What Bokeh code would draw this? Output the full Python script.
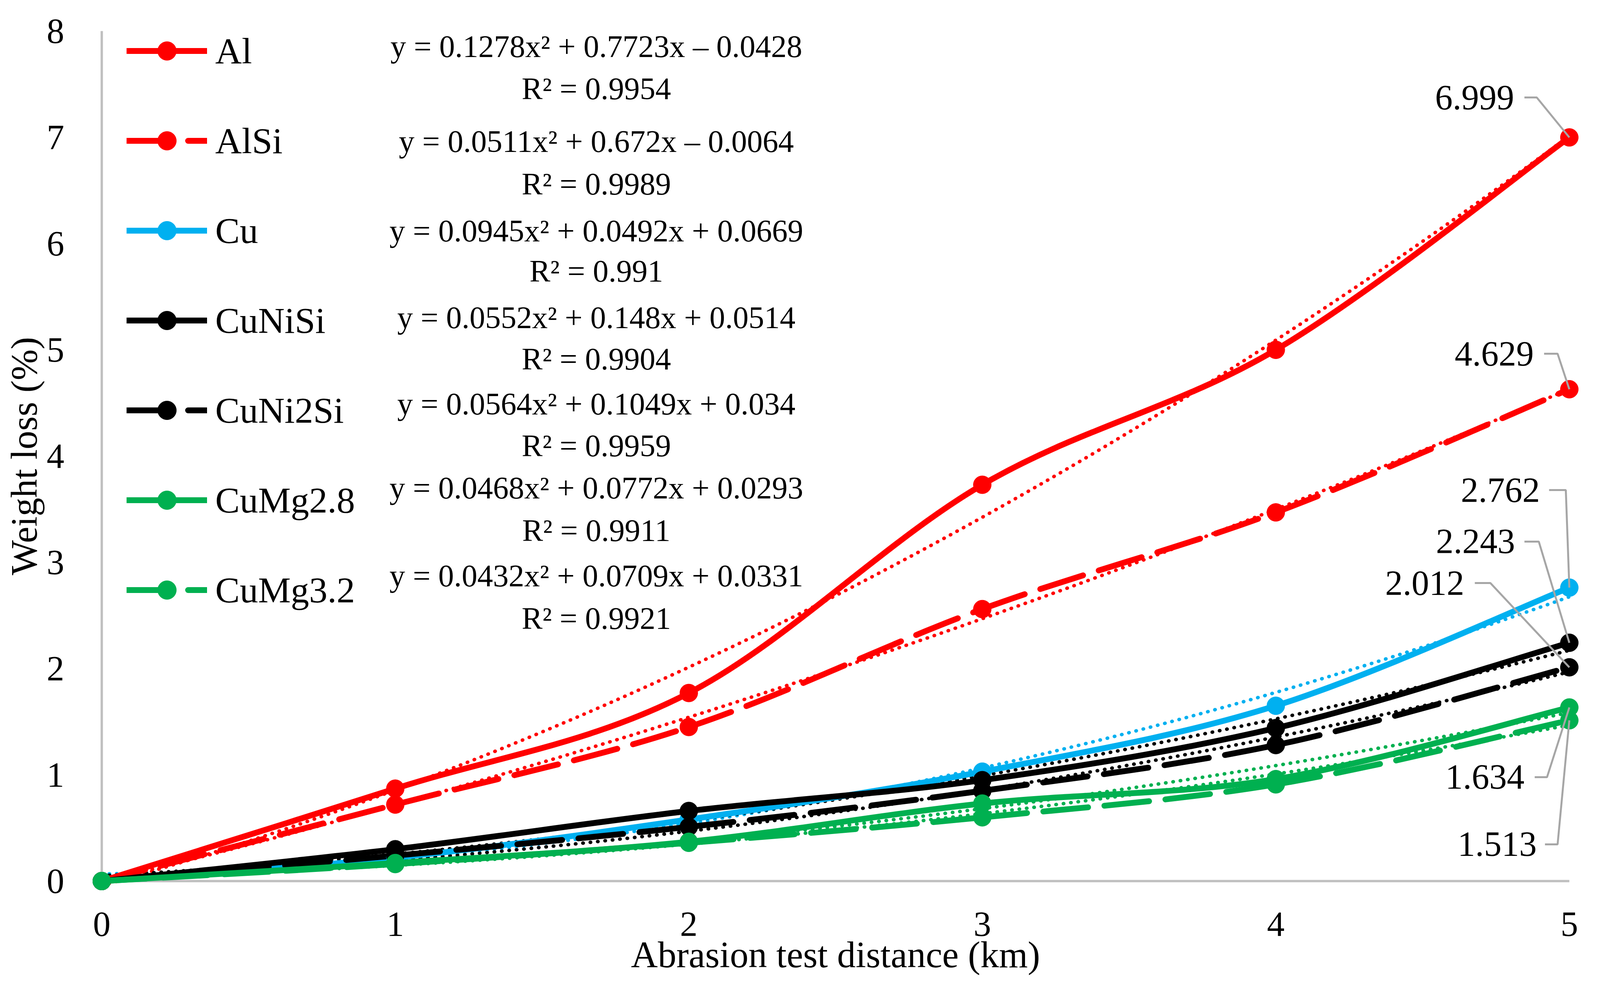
from bokeh.plotting import figure
from bokeh.models import Range1d, Legend, LegendItem, FixedTicker
from bokeh.embed import file_html
from bokeh.resources import INLINE
from bokeh.core.properties import value

# ---------------- data ----------------
distance_km = [0, 1, 2, 3, 4, 5]
series_names = ["Al", "AlSi", "Cu", "CuNiSi", "CuNi2Si", "CuMg2.8", "CuMg3.2"]
loss_al = [0, 0.87, 1.77, 3.73, 5.0, 6.999]
loss_alsi = [0, 0.72, 1.45, 2.56, 3.47, 4.629]
loss_cu = [0, 0.22, 0.58, 1.03, 1.65, 2.762]
loss_cunisi = [0, 0.30, 0.66, 0.95, 1.44, 2.243]
loss_cuni2si = [0, 0.24, 0.51, 0.85, 1.28, 2.012]
loss_cumg28 = [0, 0.17, 0.37, 0.73, 0.96, 1.634]
loss_cumg32 = [0, 0.16, 0.36, 0.60, 0.91, 1.513]
series_values = [loss_al, loss_alsi, loss_cu, loss_cunisi, loss_cuni2si, loss_cumg28, loss_cumg32]

# quadratic trendline coefficients  y = a x^2 + b x + c
coef_a = [0.1278, 0.0511, 0.0945, 0.0552, 0.0564, 0.0468, 0.0432]
coef_b = [0.7723, 0.672, 0.0492, 0.148, 0.1049, 0.0772, 0.0709]
coef_c = [-0.0428, -0.0064, 0.0669, 0.0514, 0.034, 0.0293, 0.0331]
equation_text = [
    "y = 0.1278x² + 0.7723x – 0.0428",
    "y = 0.0511x² + 0.672x – 0.0064",
    "y = 0.0945x² + 0.0492x + 0.0669",
    "y = 0.0552x² + 0.148x + 0.0514",
    "y = 0.0564x² + 0.1049x + 0.034",
    "y = 0.0468x² + 0.0772x + 0.0293",
    "y = 0.0432x² + 0.0709x + 0.0331",
]
r2_text = ["R² = 0.9954", "R² = 0.9989", "R² = 0.991", "R² = 0.9904",
           "R² = 0.9959", "R² = 0.9911", "R² = 0.9921"]
x_ticks = [0, 1, 2, 3, 4, 5]
y_ticks = [0, 1, 2, 3, 4, 5, 6, 7, 8]

# ---------------- styles / layout ----------------
colors = ["#FF0000", "#FF0000", "#00B0F0", "#000000", "#000000", "#00B050", "#00B050"]
dashes = ["solid", "115 42", "solid", "solid", "115 42", "solid", "115 42"]
FONT = "Liberation Serif"

eq_x = 1.685
eq_y = [7.853, 6.960, 6.118, 5.305, 4.489, 3.699, 2.875]
r2_y = [7.456, 6.559, 5.740, 4.915, 4.099, 3.301, 2.474]

lab_x = [4.812, 4.879, 4.900, 4.815, 4.642, 4.847, 4.889]
lab_y = [7.375, 4.963, 3.680, 3.195, 2.805, 0.978, 0.346]
lead_x0 = [4.847, 4.914, 4.931, 4.847, 4.678, 4.882, 4.917]
lead_x1 = [4.889, 4.960, 4.988, 4.896, 4.731, 4.924, 4.960]

p = figure(frame_width=3757, frame_height=2176, x_range=Range1d(0, 5), y_range=Range1d(0, 8),
           output_backend="svg", toolbar_location=None,
           min_border_left=260, min_border_right=115, min_border_top=79, min_border_bottom=271)
p.outline_line_color = None
p.xgrid.visible = False
p.ygrid.visible = False
p.background_fill_color = "white"

for ax, ticks in ((p.xaxis[0], x_ticks), (p.yaxis[0], y_ticks)):
    ax.ticker = FixedTicker(ticks=ticks)
    ax.major_tick_line_color = None
    ax.minor_tick_line_color = None
    ax.axis_line_color = "#bfbfbf"
    ax.axis_line_width = 6
    ax.major_label_text_font = FONT
    ax.major_label_text_font_size = "90px"
    ax.major_label_text_color = "#000000"
    ax.axis_label_text_font = FONT
    ax.axis_label_text_font_size = "95px"
    ax.axis_label_text_font_style = "normal"
    ax.axis_label_text_color = "#000000"

p.xaxis[0].axis_label = "Abrasion test distance (km)"
p.xaxis[0].major_label_standoff = 74
p.xaxis[0].axis_label_standoff = -8
p.yaxis[0].axis_label = "Weight loss (%)"
p.yaxis[0].major_label_standoff = 90
p.yaxis[0].axis_label_standoff = 2

# trendlines (exact quadratic Bezier of each fitted parabola on [0, 5])
x_lo, x_hi = distance_km[0], distance_km[-1]
for a, b, c, col in zip(coef_a, coef_b, coef_c, colors):
    y_lo = a * x_lo ** 2 + b * x_lo + c
    y_hi = a * x_hi ** 2 + b * x_hi + c
    cx = (x_lo + x_hi) / 2
    cy = y_lo + (2 * a * x_lo + b) * (x_hi - x_lo) / 2
    p.quadratic(x0=[x_lo], y0=[y_lo], x1=[x_hi], y1=[y_hi], cx=[cx], cy=[cy],
                line_color=col, line_width=9, line_dash="1 18", line_cap="round",
                level="overlay")

# smoothed series lines (Catmull-Rom style Bezier through the data points)
legend_items = []
line_renderers = []
for name, vals, col, dash in zip(series_names, series_values, colors, dashes):
    n = len(distance_km)
    X, Y = distance_km, vals
    x0s, y0s, x1s, y1s, c0x, c0y, c1x, c1y = ([] for _ in range(8))
    for i in range(n - 1):
        im, ip2 = max(i - 1, 0), min(i + 2, n - 1)
        x0s.append(X[i]); y0s.append(Y[i]); x1s.append(X[i + 1]); y1s.append(Y[i + 1])
        c0x.append(X[i] + (X[i + 1] - X[im]) / 6.0)
        c0y.append(Y[i] + (Y[i + 1] - Y[im]) / 6.0)
        c1x.append(X[i + 1] - (X[ip2] - X[i]) / 6.0)
        c1y.append(Y[i + 1] - (Y[ip2] - Y[i]) / 6.0)
    r_line = p.bezier(x0=x0s, y0=y0s, x1=x1s, y1=y1s, cx0=c0x, cy0=c0y, cx1=c1x, cy1=c1y,
                      line_color=col, line_width=15, line_dash=dash, line_cap="round",
                      level="overlay")
    line_renderers.append((name, r_line, col, vals))

for name, r_line, col, vals in line_renderers:
    r_pts = p.scatter(distance_km, vals, size=46, fill_color=col, line_color=col,
                      level="overlay")
    legend_items.append(LegendItem(label=name, renderers=[r_line, r_pts]))

# data labels with leader lines at the last point
last_x = distance_km[-1]
last_vals = [v[-1] for v in series_values]
p.multi_line(xs=[[a, b, last_x] for a, b in zip(lead_x0, lead_x1)],
             ys=[[y, y, v] for y, v in zip(lab_y, last_vals)],
             line_color="#a6a6a6", line_width=5, level="overlay")
p.text(x=lab_x, y=lab_y, text=[f"{v:.3f}" for v in last_vals],
       text_align="right", text_baseline="middle", text_color="#000000",
       text_font=value(FONT), text_font_size="90px", level="overlay")

# trendline equations
p.text(x=[eq_x] * len(eq_y), y=eq_y, text=equation_text, text_align="center",
       text_baseline="middle", text_color="#000000", text_font=value(FONT),
       text_font_size="80px", level="overlay")
p.text(x=[eq_x] * len(r2_y), y=r2_y, text=r2_text, text_align="center",
       text_baseline="middle", text_color="#000000", text_font=value(FONT),
       text_font_size="80px", level="overlay")

legend = Legend(items=legend_items, location=(64, 685), orientation="vertical",
                glyph_width=206, glyph_height=120, label_height=120, spacing=110,
                padding=0, margin=0, label_standoff=21,
                label_text_font=FONT, label_text_font_size="94px", label_text_color="#000000",
                border_line_color=None, background_fill_alpha=0)
p.add_layout(legend)

open("out.html", "w").write(file_html(p, INLINE))
